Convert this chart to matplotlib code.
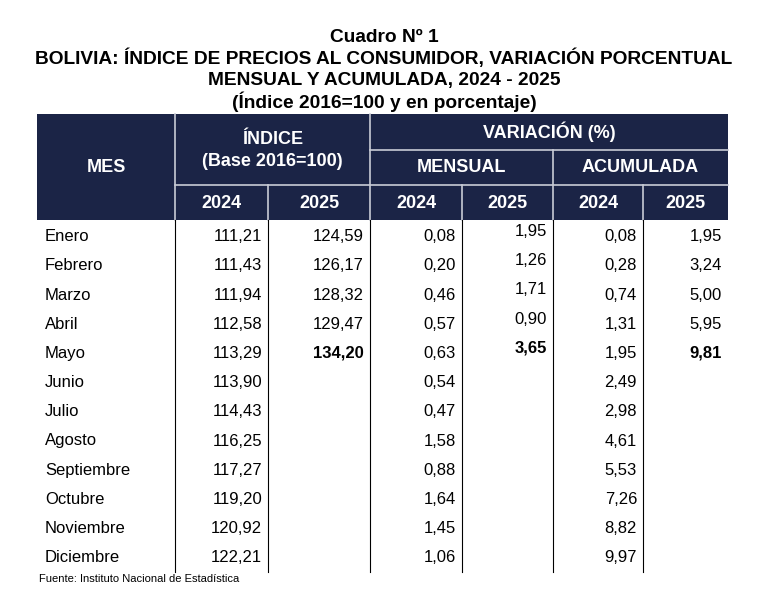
import matplotlib
matplotlib.use("Agg")
import matplotlib.pyplot as plt
from matplotlib.patches import Rectangle

plt.rcParams['font.family'] = ['Liberation Sans', 'DejaVu Sans']

meses = ["Enero", "Febrero", "Marzo", "Abril", "Mayo", "Junio", "Julio",
         "Agosto", "Septiembre", "Octubre", "Noviembre", "Diciembre"]
indice_2024 = ["111,21", "111,43", "111,94", "112,58", "113,29", "113,90",
               "114,43", "116,25", "117,27", "119,20", "120,92", "122,21"]
indice_2025 = ["124,59", "126,17", "128,32", "129,47", "134,20"]
mensual_2024 = ["0,08", "0,20", "0,46", "0,57", "0,63", "0,54", "0,47",
                "1,58", "0,88", "1,64", "1,45", "1,06"]
mensual_2025 = ["1,95", "1,26", "1,71", "0,90", "3,65"]
acum_2024 = ["0,08", "0,28", "0,74", "1,31", "1,95", "2,49", "2,98",
             "4,61", "5,53", "7,26", "8,82", "9,97"]
acum_2025 = ["1,95", "3,24", "5,00", "5,95", "9,81"]

W, H = 768, 595
fig = plt.figure(figsize=(W / 100, H / 100), dpi=100)
ax = fig.add_axes([0, 0, 1, 1])
ax.set_xlim(0, W)
ax.set_ylim(H, 0)
ax.axis("off")

navy = "#1b2446"
cols = [37, 175, 268, 370, 462, 553, 643, 728]
top, hdr_bot = 114, 220
row_h = 29.2
data_top = 222

# titulos
titulos = ["Cuadro Nº 1",
           "BOLIVIA: ÍNDICE DE PRECIOS AL CONSUMIDOR, VARIACIÓN PORCENTUAL",
           "MENSUAL Y ACUMULADA, 2024 - 2025",
           "(Índice 2016=100 y en porcentaje)"]
for i, t in enumerate(titulos):
    ax.text(384, 37 + i * 21.5, t, ha="center", va="center",
            fontsize=13.8, fontweight="bold", color="black")

# encabezado
ax.add_patch(Rectangle((cols[0], top), cols[-1] - cols[0], hdr_bot - top,
                       facecolor=navy, edgecolor="none"))
wl = dict(color="#c8cbd6", lw=1.2)
ax.plot([cols[1], cols[1]], [top, hdr_bot], **wl)
ax.plot([cols[3], cols[3]], [top, hdr_bot], **wl)
ax.plot([cols[1], cols[-1]], [185, 185], **wl)
ax.plot([cols[3], cols[-1]], [150, 150], **wl)
ax.plot([cols[5], cols[5]], [150, hdr_bot], **wl)
for c in (cols[2], cols[4], cols[6]):
    ax.plot([c, c], [185, hdr_bot], **wl)

hs = dict(ha="center", va="center", color="white", fontweight="bold", fontsize=13)
ax.text((cols[0] + cols[1]) / 2, 168, "MES", **hs)
ax.text((cols[1] + cols[3]) / 2, 140, "ÍNDICE", **hs)
ax.text((cols[1] + cols[3]) / 2, 162, "(Base 2016=100)", **hs)
ax.text((cols[3] + cols[-1]) / 2, 132, "VARIACIÓN (%)", **hs)
ax.text((cols[3] + cols[5]) / 2, 168, "MENSUAL", **hs)
ax.text((cols[5] + cols[-1]) / 2, 168, "ACUMULADA", **hs)
for i in range(6):
    ax.text((cols[i + 1] + cols[i + 2]) / 2, 204, "2024" if i % 2 == 0 else "2025", **hs)

# lineas verticales del cuerpo
body_bot = data_top + row_h * len(meses)
for c in cols[1:-1]:
    ax.plot([c, c], [hdr_bot, body_bot], color="black", lw=0.8)

series = [indice_2024, indice_2025, mensual_2024, mensual_2025, acum_2024, acum_2025]
for r, mes in enumerate(meses):
    y = data_top + row_h * (r + 0.5)
    ax.text(cols[0] + 8, y, mes, ha="left", va="center", fontsize=12)
    for j, s in enumerate(series):
        if r < len(s):
            bold = (r == 4 and j % 2 == 1)
            yy = y - 5 if j == 3 else y
            ax.text(cols[j + 2] - 6, yy, s[r], ha="right", va="center", fontsize=12,
                    fontweight="bold" if bold else "normal")

ax.text(cols[0] + 2, 579, "Fuente: Instituto Nacional de Estadística",
        ha="left", va="center", fontsize=8)

fig.savefig("out.png", dpi=100, facecolor="white")
